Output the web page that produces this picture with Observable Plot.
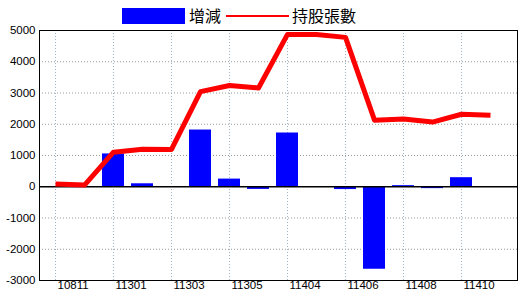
<!DOCTYPE html>
<html>
<head>
<meta charset="utf-8">
<script src="https://cdn.jsdelivr.net/npm/d3@7"></script>
<script src="https://cdn.jsdelivr.net/npm/@observablehq/plot@0.6"></script>
<style>
  html, body { margin: 0; padding: 0; background: #fff; }
  #wrap { position: relative; width: 520px; height: 300px; }
  #legend { position: absolute; left: 0; top: 0; width: 520px; height: 30px; font-family: "Noto Sans CJK TC", "Noto Sans CJK SC", sans-serif; font-size: 16px; color: #000; }
  #legend .sw { position: absolute; }
  #legend .lb { position: absolute; top: 4px; line-height: 24px; height: 24px; white-space: nowrap; }
</style>
</head>
<body>
<div id="wrap">
  <div id="chart"></div>
  <div id="legend">
    <div class="sw" style="left:122px; top:8px; width:63px; height:16px; background:#0000ff;"></div>
    <div class="lb" style="left:189px; top:3px;">增減</div>
    <div class="sw" style="left:226px; top:15px; width:63px; height:2px; background:#ff0000;"></div>
    <div class="lb" style="left:292px; top:3px;">持股張數</div>
  </div>
</div>
<script>
const months = ["10811","11212","11301","11302","11303","11304","11305","11403","11404","11405","11406","11407","11408","11409","11410","11411"];
const holdings = [90, 55, 1105, 1200, 1195, 3045, 3240, 3160, 4875, 4870, 4780, 2130, 2165, 2070, 2320, 2290];
const changes = [0, 0, 1050, 95, 0, 1815, 245, -85, 1720, 0, -90, -2640, 35, -60, 290, 0];
const tickLabels = ["10811","11301","11303","11305","11404","11406","11408","11410"];
const yTicks = [-3000, -2000, -1000, 0, 1000, 2000, 3000, 4000, 5000];

const holdData = months.map((m, i) => ({m, v: holdings[i]}));
const chgData = months.map((m, i) => ({m, v: changes[i]}));

const chart = Plot.plot({
  width: 520,
  height: 300,
  marginTop: 30,
  marginBottom: 20,
  marginLeft: 39,
  marginRight: 3,
  style: {fontFamily: "'Liberation Sans', Arial, sans-serif", fontSize: "11.5px", color: "#000", background: "#fff"},
  x: {type: "band", domain: months, range: [44, 501.5], paddingInner: 0.24, paddingOuter: 0, axis: null, label: null},
  y: {domain: [-3000, 5000], axis: null, label: null},
  marks: [
    Plot.gridY(yTicks.filter(d => d !== -3000 && d !== 5000 && d !== 0), {stroke: "#999", strokeOpacity: 1, strokeDasharray: "1,2"}),
    Plot.gridX(tickLabels, {stroke: "#9fb3c6", strokeOpacity: 1, strokeDasharray: "1,2"}),
    Plot.barY(chgData, {x: "m", y: "v", fill: "#0000ff"}),
    Plot.ruleY([0], {stroke: "#000", strokeWidth: 1.5}),
    Plot.line(holdData, {x: "m", y: "v", stroke: "#ff0000", strokeWidth: 5, strokeLinejoin: "round", strokeLinecap: "butt"}),
    Plot.frame({stroke: "#000"}),
    Plot.axisY({ticks: yTicks, tickSize: 0, tickPadding: 4, label: null, fontSize: 11.5, tickFormat: d => String(d)}),
    Plot.text(tickLabels, {x: d => d, frameAnchor: "bottom", dy: 8, dx: 2, textAnchor: "start", fill: "#000", fontSize: 11.5})
  ]
});
document.getElementById("chart").appendChild(chart);
</script>
</body>
</html>
